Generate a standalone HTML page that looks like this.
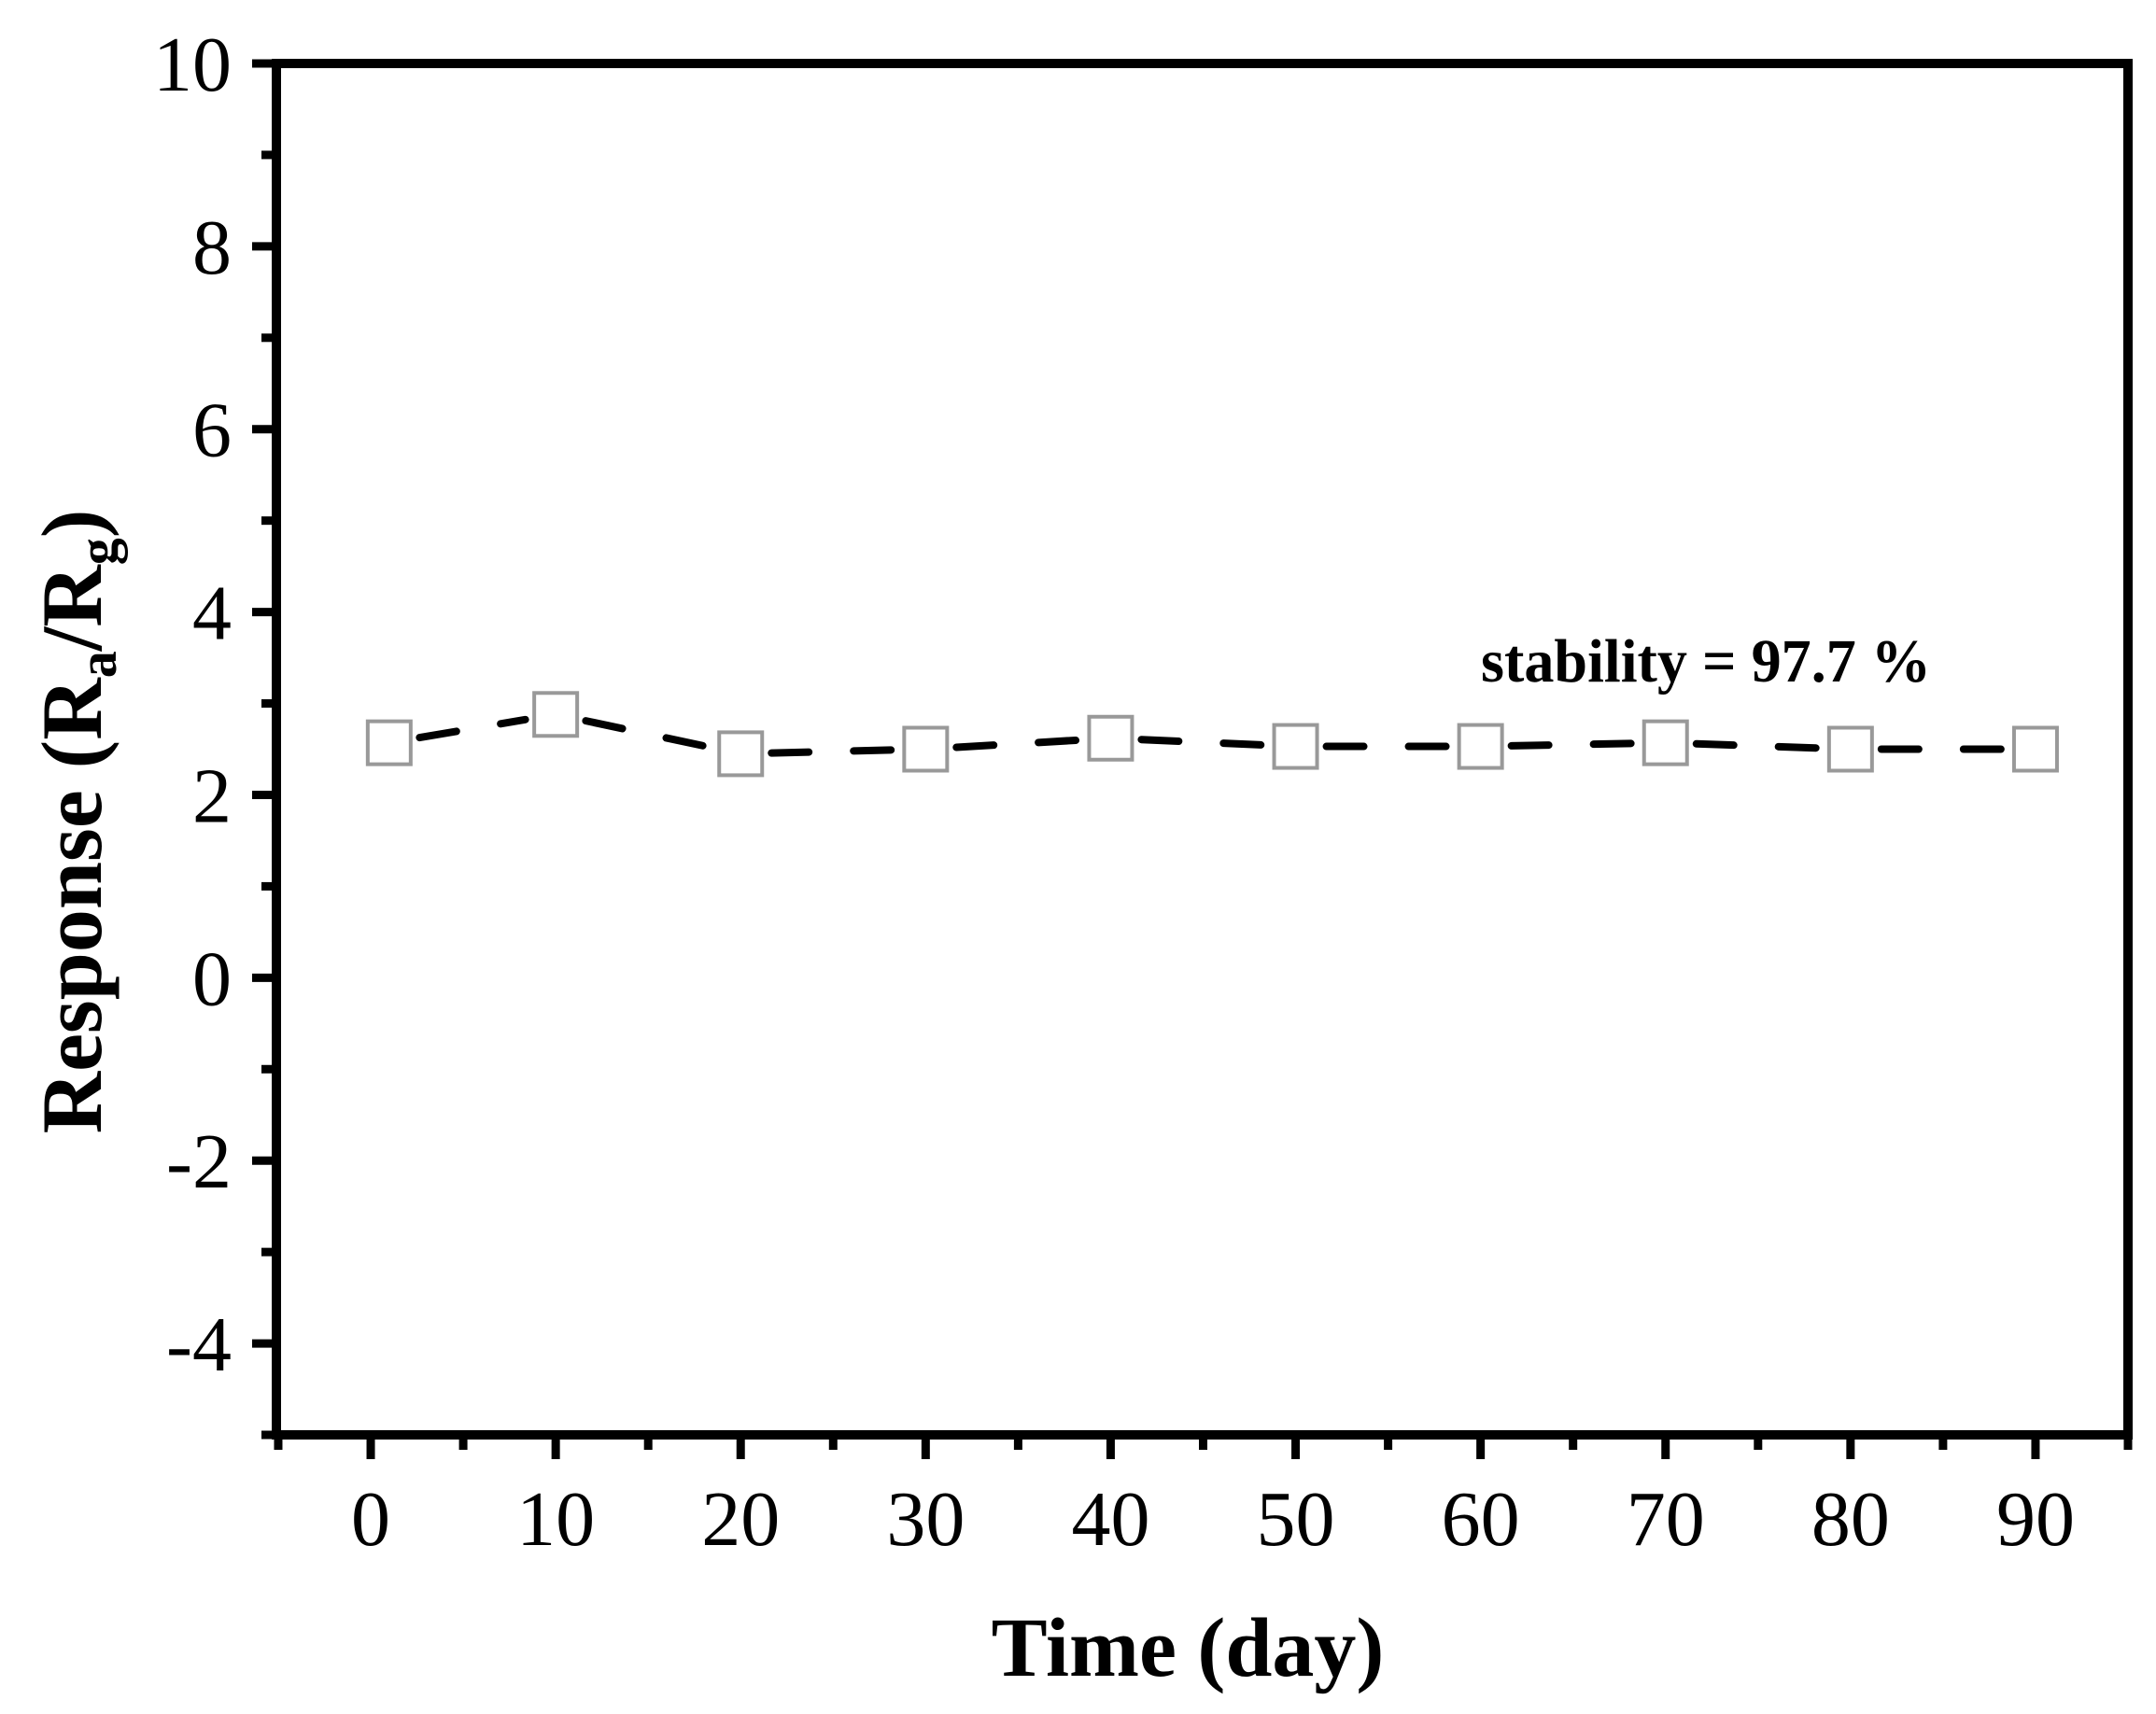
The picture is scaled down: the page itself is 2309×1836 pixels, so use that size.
<!DOCTYPE html>
<html><head><meta charset="utf-8"><style>
html,body{margin:0;padding:0;background:#fff;}
svg{display:block;}
text{font-family:"Liberation Serif","Times New Roman",serif;fill:#000;}
</style></head>
<body>
<svg id="chart" width="2309" height="1836" viewBox="0 0 2309 1836" xmlns="http://www.w3.org/2000/svg">
<g id="ticks"></g>
<g id="series"></g>
<rect x="296" y="68" width="1983" height="1469" fill="none" stroke="#000" stroke-width="10"/>
<text x="1586" y="730" font-size="66" font-weight="bold" textLength="482" lengthAdjust="spacingAndGlyphs">stability = 97.7 %</text>
<text x="1272" y="1795" font-size="90" font-weight="bold" text-anchor="middle">Time (day)</text>
<g transform="translate(108,880) rotate(-90)">
<text x="0" y="0" font-size="92" font-weight="bold" text-anchor="middle">Response (R<tspan font-size="58" dy="16">a</tspan><tspan dy="-16">/R</tspan><tspan font-size="58" dy="16">g</tspan><tspan dy="-16">)</tspan></text>
</g>
</svg>
<script>
const days = [1, 10, 20, 30, 40, 50, 60, 70, 80, 90];
const response = [2.57, 2.88, 2.45, 2.5, 2.62, 2.53, 2.53, 2.57, 2.5, 2.5];
const xTickLabels = ["0","10","20","30","40","50","60","70","80","90"];
const yTickLabels = ["-4","-2","0","2","4","6","8","10"];

const X0=296, X1=2279, Y0=1537, Y1=68;
const xMin=-5.1, xMax=95, yMin=-5, yMax=10;
const sx = v => X0 + (v - xMin) / (xMax - xMin) * (X1 - X0);
const sy = v => Y0 - (v - yMin) / (yMax - yMin) * (Y0 - Y1);
const NS = "http://www.w3.org/2000/svg";
const mk = (tag, attrs, parent) => { const e = document.createElementNS(NS, tag); for (const k in attrs) e.setAttribute(k, attrs[k]); parent.appendChild(e); return e; };
const ticks = document.getElementById('ticks');
const series = document.getElementById('series');

for (let v = -5; v <= 95; v += 5) {
  const major = v % 10 === 0;
  const l = mk('line', {x1: sx(v), x2: sx(v), y1: Y0, y2: Y0 + (major ? 26 : 16), stroke: '#000', 'stroke-width': 9}, ticks);
  
  
}
xTickLabels.forEach(s => {
  const t = mk('text', {x: sx(+s), y: 1655, 'font-size': 84, 'text-anchor': 'middle'}, ticks);
  t.textContent = s;
  
  
});
for (let v = -5; v <= 10; v += 1) {
  const major = v % 2 === 0;
  const l = mk('line', {x1: X0, x2: X0 - (major ? 26 : 16), y1: sy(v), y2: sy(v), stroke: '#000', 'stroke-width': 9}, ticks);
  
  
}
yTickLabels.forEach(s => {
  const t = mk('text', {x: 248, y: sy(+s) + 29, 'font-size': 84, 'text-anchor': 'end'}, ticks);
  t.textContent = s;
  
  
});
const half = 23;
for (let i = 0; i < days.length - 1; i++) {
  const xa = sx(days[i]), ya = sy(response[i]), xb = sx(days[i+1]), yb = sy(response[i+1]);
  const dx = xb - xa, dy = yb - ya, len = Math.hypot(dx, dy);
  const ux = dx / len, uy = dy / len;
  const s0 = half + 10, s1 = len - half - 10;
  const seg = mk('line', {x1: xa + ux*s0, y1: ya + uy*s0, x2: xa + ux*s1, y2: ya + uy*s1, stroke: '#000', 'stroke-width': 8, 'stroke-dasharray': '40 48', 'stroke-linecap': 'round'}, series);
  
  
}
days.forEach((d, i) => {
  const r = mk('rect', {x: sx(d) - half, y: sy(response[i]) - half, width: 2*half, height: 2*half, fill: '#fff', stroke: '#999', 'stroke-width': 4}, series);
  
  
});
</script>
</body></html>
